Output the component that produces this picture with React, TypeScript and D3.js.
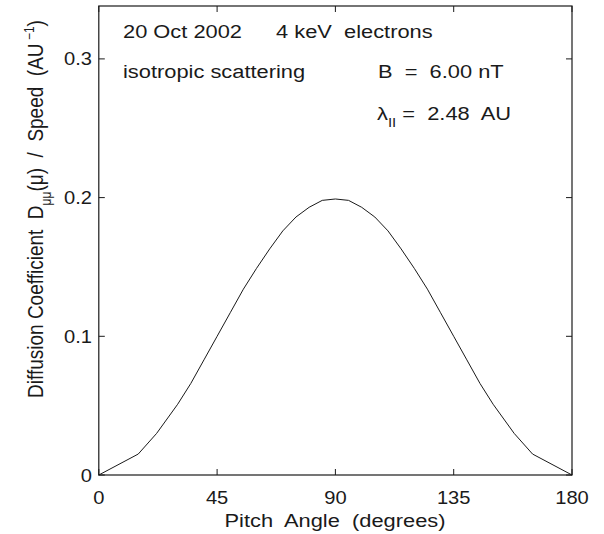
import React from "react";
import * as d3 from "d3";

const pitchAngles = [0, 15, 22, 30, 35, 40, 45, 50, 55, 60, 65, 70, 75, 80, 85, 90, 95, 100, 105, 110, 115, 120, 125, 130, 135, 140, 145, 150, 158, 165, 180];
const diffCoeff = [0, 0.0151, 0.030, 0.051, 0.066, 0.083, 0.100, 0.117, 0.134, 0.149, 0.163, 0.176, 0.186, 0.193, 0.198, 0.199, 0.198, 0.193, 0.186, 0.176, 0.163, 0.149, 0.134, 0.117, 0.100, 0.083, 0.066, 0.051, 0.030, 0.0151, 0];
const xTicks = [0, 45, 90, 135, 180];
const yTicks = [0, 0.1, 0.2, 0.3];
const yTickLabels = ["0", "0.1", "0.2", "0.3"];

const W = 604, H = 534;
const L = 98.8, R = 572, T = 6, B = 475;
const FONT = "'Liberation Sans', Arial, Helvetica, sans-serif";
const INK = "#1a1a1a";
const SX = 1.15;
const pre = { whiteSpace: "pre" as const };

function T_({ x, y, anchor = "start", size, children }: any) {
  return (
    <text transform={`translate(${x},${y}) scale(${SX},1)`} textAnchor={anchor} fontSize={size} fill={INK} style={pre} xmlSpace="preserve">
      {children}
    </text>
  );
}

export default function App() {
  const x = d3.scaleLinear().domain([0, 180]).range([L, R]);
  const y = d3.scaleLinear().domain([0, (B - T) / 1387]).range([B, T]);
  const data = pitchAngles.map((a, i) => [a, diffCoeff[i]] as [number, number]);
  const line = d3.line<[number, number]>().x(d => x(d[0])).y(d => y(d[1]));
  const tl = 6;
  const fsTick = 17.5;
  const fsLab = 19;
  return (
    <svg width={W} height={H} style={{ position: "absolute", left: 0, top: 0, background: "#fff" }} fontFamily={FONT}>
      <rect x={0} y={0} width={W} height={H} fill="#fff" />
      <path d={line(data) || ""} fill="none" stroke={INK} strokeWidth={1} strokeLinejoin="round" />
      <rect x={L} y={T} width={R - L} height={B - T} fill="none" stroke={INK} strokeWidth={1.2} />
      {xTicks.map(t => (
        <g key={"xt" + t}>
          <line x1={x(t)} x2={x(t)} y1={B} y2={B - tl} stroke={INK} />
          <line x1={x(t)} x2={x(t)} y1={T} y2={T + tl} stroke={INK} />
          <T_ x={x(t)} y={503.5} anchor="middle" size={fsTick}>{String(t)}</T_>
        </g>
      ))}
      {yTicks.map((t, i) => (
        <g key={"yt" + t}>
          <line x1={L} x2={L + tl} y1={y(t)} y2={y(t)} stroke={INK} />
          <line x1={R} x2={R - tl} y1={y(t)} y2={y(t)} stroke={INK} />
          <T_ x={92} y={y(t) + 6.5} anchor="end" size={fsTick}>{yTickLabels[i]}</T_>
        </g>
      ))}
      <T_ x={335} y={527} anchor="middle" size={fsLab}>Pitch  Angle  (degrees)</T_>
      <text transform={`translate(43,209) scale(${SX},1) rotate(-90)`} textAnchor="middle" fontSize={fsLab} fill={INK} style={pre} xmlSpace="preserve">
        <tspan>Diffusion Coefficient  D</tspan>
        <tspan fontSize={12} dy={7}>μμ</tspan>
        <tspan dy={-7}>(μ)  /  Speed  (AU</tspan>
        <tspan fontSize={12} dy={-8}> −1</tspan>
        <tspan dy={8}>)</tspan>
      </text>
      <T_ x={123} y={38} size={fsLab}>20 Oct 2002</T_>
      <T_ x={276} y={38} size={fsLab}>4 keV  electrons</T_>
      <T_ x={123} y={78} size={fsLab}>isotropic scattering</T_>
      <T_ x={378} y={78} size={fsLab}>B  =  6.00 nT</T_>
      <T_ x={377} y={120} size={fsLab}>
        <tspan>λ</tspan>
        <tspan fontSize={13} dy={7}>II</tspan>
        <tspan dy={-7}> =  2.48  AU</tspan>
      </T_>
    </svg>
  );
}
